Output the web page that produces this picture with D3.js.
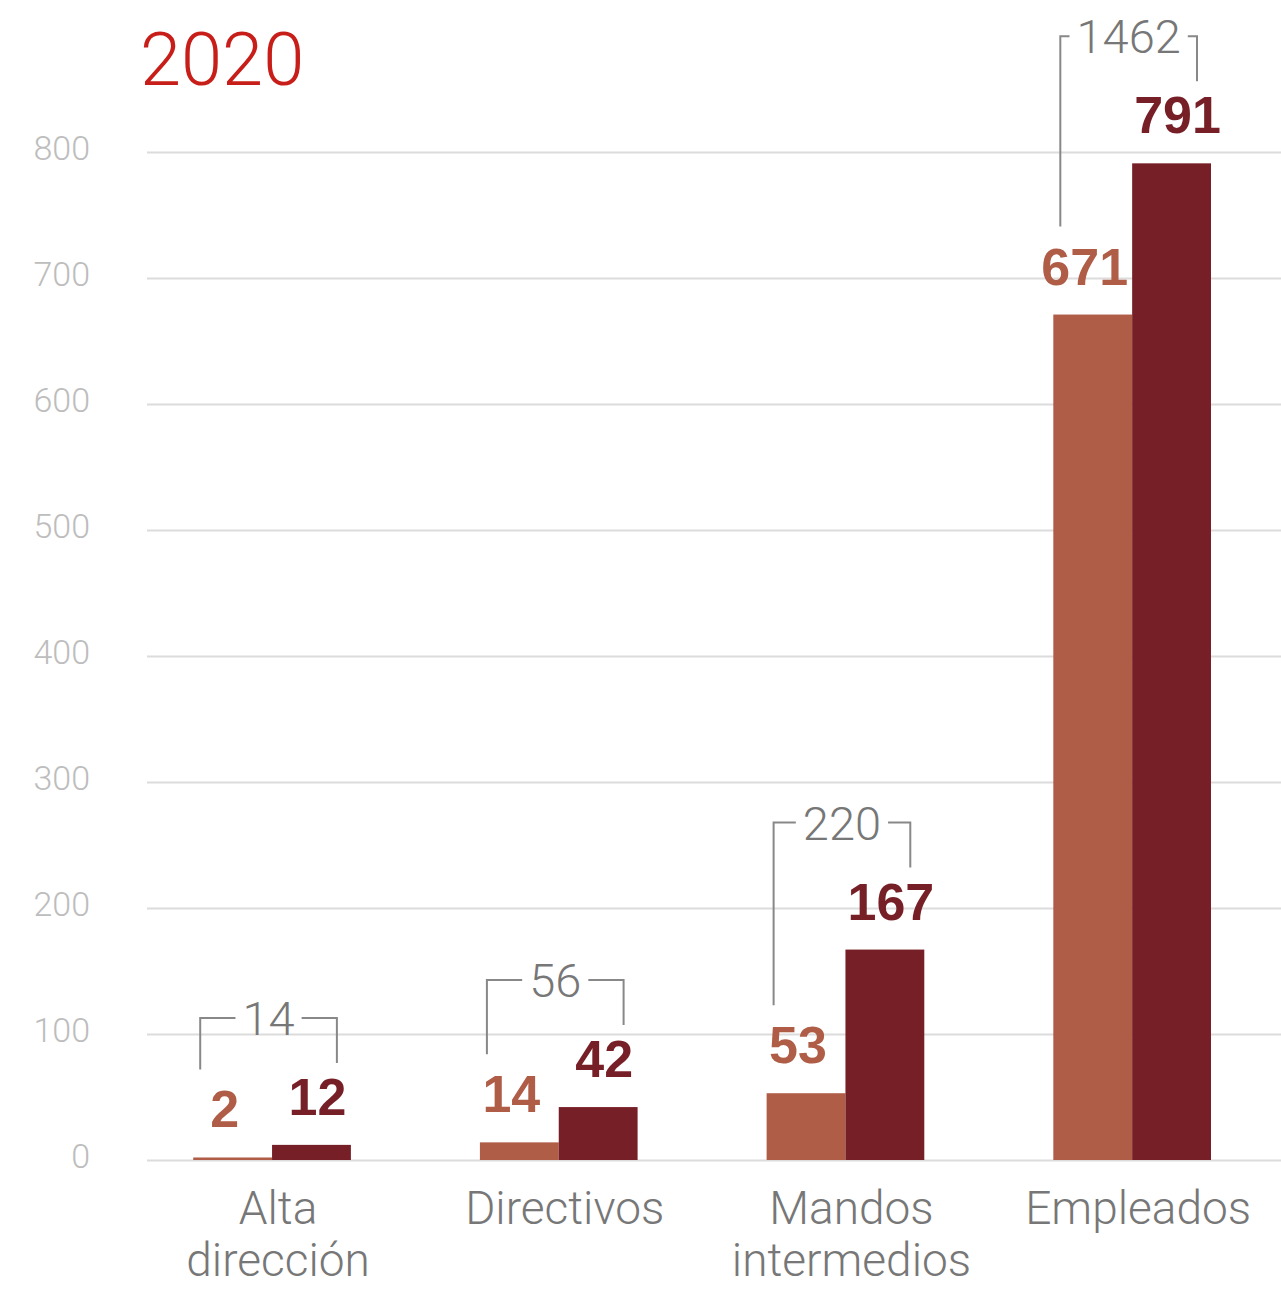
<!DOCTYPE html>
<html>
<head>
<meta charset="utf-8">
<script src="https://cdn.jsdelivr.net/npm/d3@7"></script>
<style>
  body { margin: 0; background: #fff; }
  svg { display: block; }
</style>
</head>
<body>
<svg id="chart" width="1281" height="1289"></svg>
<script>
// Plantilla por categoría profesional, 2020
const title = "2020";
const categories = ["Alta dirección", "Directivos", "Mandos intermedios", "Empleados"];
const seriesLight = [2, 14, 53, 671];
const seriesDark = [12, 42, 167, 791];
const yTicks = [0, 100, 200, 300, 400, 500, 600, 700, 800];

const W = 1281, H = 1289;
const colLight = "#b05d47", colDark = "#761f27";
const light = "Roboto, 'Helvetica Neue', Arial, sans-serif";
const bold = "'Liberation Sans', Arial, sans-serif";

const svg = d3.select("#chart");

const y = d3.scaleLinear().domain([0, 800]).range([1160, 152]);
const x = d3.scaleBand()
  .domain(categories)
  .range([128.7, 1275.5])
  .paddingInner(0.45)
  .paddingOuter(0.225);
const xs = d3.scaleBand().domain(["light", "dark"]).range([0, x.bandwidth()]);

// Gridlines and value axis
const axis = svg.append("g")
  .attr("transform", "translate(147,0)")
  .call(d3.axisLeft(y).tickValues(yTicks).tickSize(-(W - 147)).tickPadding(57));
axis.select(".domain").remove();
axis.selectAll(".tick line").attr("stroke", "#dcdcdc").attr("stroke-width", 2);
axis.selectAll(".tick text")
  .attr("fill", "#bdbdbd")
  .attr("font-family", light)
  .attr("font-weight", 300)
  .attr("font-size", 34)
  .attr("dy", "0.22em");

// Title
svg.append("text")
  .attr("x", 140).attr("y", 85)
  .attr("fill", "#c81e19")
  .attr("font-family", light)
  .attr("font-weight", 300)
  .attr("font-size", 74)
  .text(title);

const rows = categories.map((c, i) => ({
  cat: c,
  light: seriesLight[i],
  dark: seriesDark[i],
  total: seriesLight[i] + seriesDark[i]
}));

const groups = svg.append("g").selectAll("g.grp")
  .data(rows).join("g")
  .attr("class", "grp")
  .attr("transform", d => `translate(${x(d.cat)},0)`);

// Bars
groups.append("rect")
  .attr("x", xs("light")).attr("width", xs.bandwidth())
  .attr("y", d => y(d.light)).attr("height", d => y(0) - y(d.light))
  .attr("fill", colLight);
groups.append("rect")
  .attr("x", xs("dark")).attr("width", xs.bandwidth())
  .attr("y", d => y(d.dark)).attr("height", d => y(0) - y(d.dark))
  .attr("fill", colDark);

// Value labels
groups.append("text")
  .attr("x", xs("light") + xs.bandwidth() / 2 - 8)
  .attr("y", d => y(d.light) - 30)
  .attr("text-anchor", "middle")
  .attr("fill", colLight)
  .attr("font-family", bold).attr("font-weight", 700).attr("font-size", 52)
  .text(d => d.light);
groups.append("text")
  .attr("x", xs("dark") + xs.bandwidth() / 2 + 6)
  .attr("y", d => y(d.dark) - 30)
  .attr("text-anchor", "middle")
  .attr("fill", colDark)
  .attr("font-family", bold).attr("font-weight", 700).attr("font-size", 52)
  .text(d => d.dark);

// Total brackets
groups.each(function (d) {
  const g = d3.select(this);
  const left = xs("light") + 7;
  const right = xs("dark") + xs.bandwidth() - 14;
  const top = y(d.dark) - 127;
  const mid = (left + right) / 2;
  const t = g.append("text")
    .attr("x", mid).attr("y", top)
    .attr("dy", "0.36em")
    .attr("text-anchor", "middle")
    .attr("fill", "#777")
    .attr("font-family", light).attr("font-weight", 300).attr("font-size", 47)
    .text(d.total);
  const tw = t.node().getComputedTextLength();
  const gap = 7;
  const line = d3.line();
  g.append("path")
    .attr("d", line([[left, y(d.light) - 88], [left, top], [mid - tw / 2 - gap, top]]))
    .attr("fill", "none").attr("stroke", "#888").attr("stroke-width", 2);
  g.append("path")
    .attr("d", line([[mid + tw / 2 + gap, top], [right, top], [right, y(d.dark) - 82]]))
    .attr("fill", "none").attr("stroke", "#888").attr("stroke-width", 2);
});

// Category labels
groups.append("text")
  .attr("text-anchor", "middle")
  .attr("fill", "#777")
  .attr("font-family", light).attr("font-weight", 300).attr("font-size", 46)
  .selectAll("tspan")
  .data(d => d.cat.split(" "))
  .join("tspan")
  .attr("x", x.bandwidth() / 2 + 6)
  .attr("y", (s, i) => 1224 + i * 52)
  .text(s => s);
</script>
</body>
</html>
